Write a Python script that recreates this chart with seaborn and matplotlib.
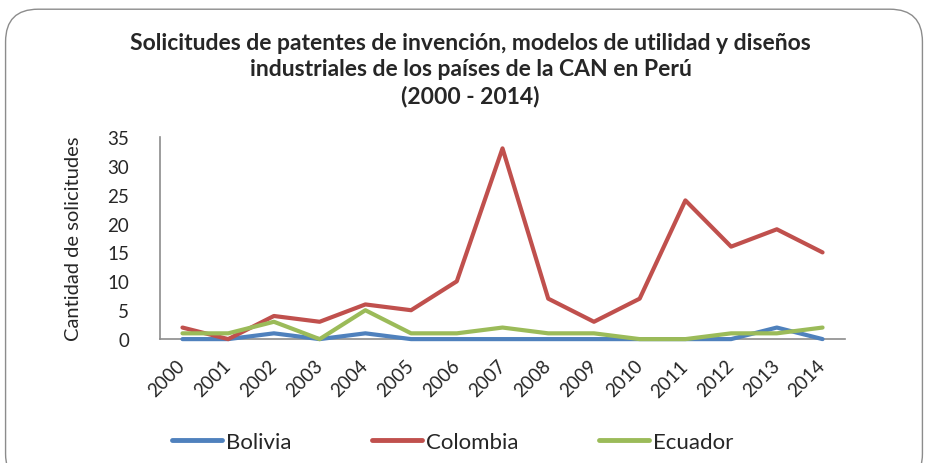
import matplotlib
matplotlib.use("Agg")
import matplotlib.pyplot as plt
import seaborn as sns
import pandas as pd
from matplotlib.patches import FancyBboxPatch

years = [str(y) for y in range(2000, 2015)]
bolivia = [0, 0, 1, 0, 1, 0, 0, 0, 0, 0, 0, 0, 0, 2, 0]
colombia = [2, 0, 4, 3, 6, 5, 10, 33, 7, 3, 7, 24, 16, 19, 15]
ecuador = [1, 1, 3, 0, 5, 1, 1, 2, 1, 1, 0, 0, 1, 1, 2]
series_names = ["Bolivia", "Colombia", "Ecuador"]
colors = ["#4F81BD", "#C0504D", "#9BBB59"]
yticks = [0, 5, 10, 15, 20, 25, 30, 35]

sns.set_theme(style="white")
plt.rcParams['font.family'] = ['Lato', 'DejaVu Sans']

df = pd.DataFrame({"Año": years * 3,
                   "Valor": bolivia + colombia + ecuador,
                   "Serie": [s for s in series_names for _ in years]})
df["x"] = df["Año"].map({y: i for i, y in enumerate(years)})

fig = plt.figure(figsize=(9.28, 4.64), dpi=100)
ax = fig.add_axes([0.172, 0.267, 0.739, 0.436])

border = FancyBboxPatch((0.006, -0.05), 0.988, 1.028, boxstyle="round,pad=0,rounding_size=0.035",
                        transform=fig.transFigure, fill=False, edgecolor="#8c8c8c", linewidth=1.0,
                        mutation_aspect=2.0, zorder=0)
fig.patches.append(border)

sns.lineplot(data=df, x="x", y="Valor", hue="Serie", palette=colors, linewidth=3.0,
             ax=ax, legend=False, sort=False)
for ln in ax.get_lines():
    ln.set_clip_on(False)
    ln.set_zorder(3)

ax.set_xlim(-0.5, len(years) - 0.5)
ax.set_ylim(0, 35)
ax.set_yticks(yticks)
ax.set_yticklabels([str(v) for v in yticks], fontsize=13.5)
ax.set_xticks(range(len(years)))
ax.set_xticklabels(years, rotation=45, ha="right", va="center", rotation_mode="anchor", fontsize=13.5)
ax.tick_params(axis="y", length=0, pad=22)
ax.tick_params(axis="x", length=0, pad=17)
ax.set_xlabel("")
ax.set_ylabel("Cantidad de solicitudes", fontsize=14.5, labelpad=18)
for s in ["top", "right"]:
    ax.spines[s].set_visible(False)
for s in ["left", "bottom"]:
    ax.spines[s].set_color("#8c8c8c")
    ax.spines[s].set_linewidth(1.2)

fig.text(0.507, 0.849, "Solicitudes de patentes de invención, modelos de utilidad y diseños\n"
         "industriales de los países de la CAN en Perú\n(2000 - 2014)",
         ha="center", va="center", fontsize=16.5, fontweight="bold", linespacing=1.3)

handles = [plt.Line2D([], [], color=c, linewidth=3.5) for c in colors]
fig.legend(handles, series_names, loc="center", bbox_to_anchor=(0.488, 0.045), ncol=3,
           frameon=False, fontsize=16, handlelength=2.25, handletextpad=0.2, columnspacing=3.6)

fig.savefig("out.png", dpi=100)
